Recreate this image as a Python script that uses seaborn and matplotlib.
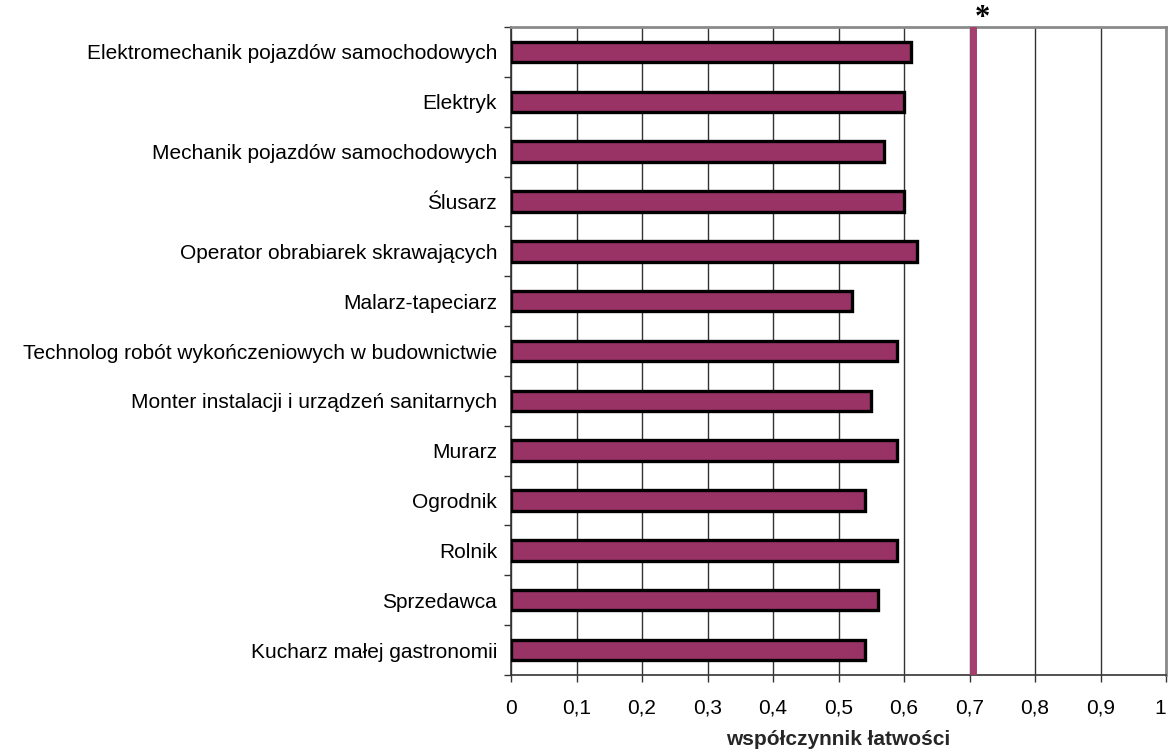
import numpy as np
import pandas as pd
import seaborn as sns
import matplotlib.pyplot as plt

zawody = [
    "Elektromechanik pojazdów samochodowych",
    "Elektryk",
    "Mechanik pojazdów samochodowych",
    "Ślusarz",
    "Operator obrabiarek skrawających",
    "Malarz-tapeciarz",
    "Technolog robót wykończeniowych w budownictwie",
    "Monter instalacji i urządzeń sanitarnych",
    "Murarz",
    "Ogrodnik",
    "Rolnik",
    "Sprzedawca",
    "Kucharz małej gastronomii",
]
latwosc = [0.61, 0.60, 0.57, 0.60, 0.62, 0.52, 0.59, 0.55, 0.59, 0.54, 0.59, 0.56, 0.54]
srednia = 0.705
x_ticks = [0, 0.1, 0.2, 0.3, 0.4, 0.5, 0.6, 0.7, 0.8, 0.9, 1.0]
x_labels = ["0", "0,1", "0,2", "0,3", "0,4", "0,5", "0,6", "0,7", "0,8", "0,9", "1"]

df = pd.DataFrame({"zawod": zawody, "wsp": latwosc})

sns.set_style("white")
plt.rcParams["font.family"] = ["Liberation Sans", "DejaVu Sans"]
plt.rcParams["text.color"] = "black"
plt.rcParams["xtick.color"] = "black"
plt.rcParams["ytick.color"] = "black"

fig = plt.figure(figsize=(11.7, 7.56), dpi=100)
# axes from x=511..1166 px, y=27..675 px
ax = fig.add_axes([511 / 1170, 1 - 675 / 756, 655 / 1170, 648 / 756])

sns.barplot(data=df, x="wsp", y="zawod", color="#993366", edgecolor="black",
            linewidth=2.4, width=0.41, saturation=1, ax=ax, zorder=3)

ax.axvline(srednia, color="#A3406F", linewidth=5, zorder=4)
ax.annotate("*", xy=(srednia, 1.0), xycoords=ax.get_xaxis_transform(),
            xytext=(7, 1), textcoords="offset points", ha="center", va="baseline",
            fontsize=22, fontweight="bold", family="Liberation Serif", annotation_clip=False)

ax.set_xlim(0, 1)
ax.set_ylim(len(zawody) - 0.5, -0.5)
ax.set_xticks(x_ticks)
ax.set_xticklabels(x_labels)
ax.get_xticklabels()[-1].set_horizontalalignment("right")
ax.xaxis.grid(True, color="#333333", linewidth=1, zorder=0)
ax.set_axisbelow(True)

ax.set_yticks(np.arange(-0.5, len(zawody), 1), minor=True)
ax.tick_params(axis="y", which="major", left=False, length=0, labelsize=15, pad=10)
ax.tick_params(axis="y", which="minor", left=True, length=5, width=1, color="#333333", direction="out")
ax.tick_params(axis="x", bottom=True, length=5, width=1, color="#333333", direction="out",
               labelsize=15, pad=12)

for s in ["top", "right"]:
    ax.spines[s].set_color("#8a8a8a")
    ax.spines[s].set_linewidth(2)
for s in ["left", "bottom"]:
    ax.spines[s].set_color("#333333")
    ax.spines[s].set_linewidth(1.2)

ax.set_ylabel("")
ax.set_xlabel("współczynnik łatwości", fontsize=15, fontweight="bold", labelpad=9)

fig.savefig("out.png", dpi=100)
